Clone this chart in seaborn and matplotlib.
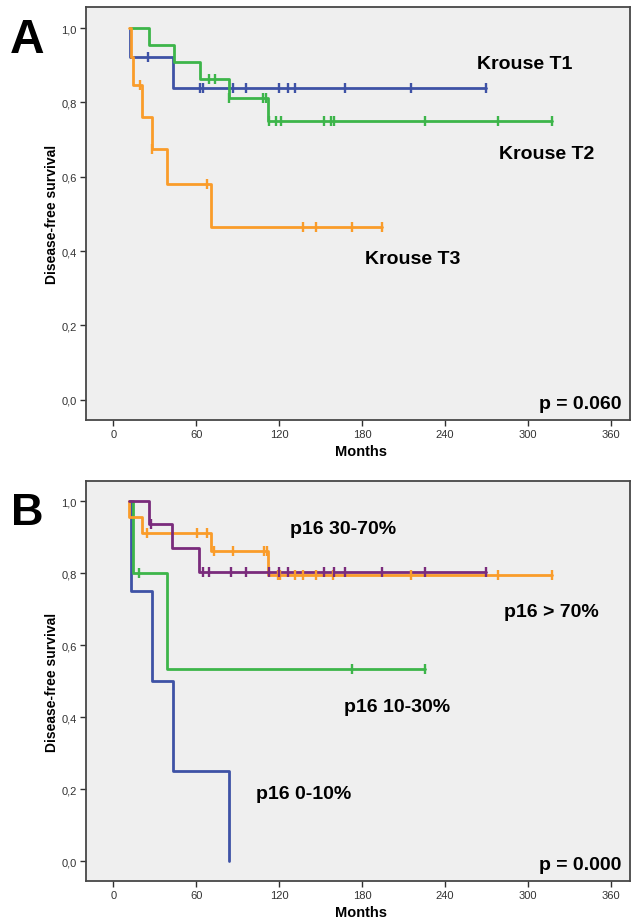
import numpy as np
import matplotlib
matplotlib.use("Agg")
import matplotlib.pyplot as plt
import seaborn as sns

# ---------------- data ----------------
x_ticks = [0, 60, 120, 180, 240, 300, 360]
y_ticks = [0.0, 0.2, 0.4, 0.6, 0.8, 1.0]
y_tick_labels = ["0,0", "0,2", "0,4", "0,6", "0,8", "1,0"]

# Panel A - Krouse stage
krouse_t1_start = 12.3
krouse_t1_events = [12.3, 43.0]
krouse_t1_levels = [0.923, 0.839]
krouse_t1_censored = [24.9, 62.8, 65.0, 86.5, 95.9, 119.8, 126.6, 131.4, 167.4, 215.5, 269.9]

krouse_t2_start = 12.3
krouse_t2_events = [26.1, 43.8, 63.0, 83.8, 111.9]
krouse_t2_levels = [0.955, 0.909, 0.864, 0.812, 0.750]
krouse_t2_censored = [69.6, 73.7, 83.8, 108.7, 110.4, 112.6, 117.4, 121.5, 152.7, 157.5,
                      159.5, 225.4, 278.6, 317.7]

krouse_t3_start = 11.5
krouse_t3_events = [12.8, 14.5, 21.0, 27.8, 38.7, 70.6]
krouse_t3_levels = [0.923, 0.846, 0.761, 0.676, 0.580, 0.464]
krouse_t3_censored = [19.3, 28.2, 68.0, 137.5, 146.5, 172.7, 194.5]

# Panel B - p16 expression
p16_0_10_start = 12.1
p16_0_10_events = [12.8, 27.8, 43.5, 83.8]
p16_0_10_levels = [0.75, 0.50, 0.25, 0.0]
p16_0_10_censored = []

p16_10_30_start = 12.5
p16_10_30_events = [14.5, 38.9]
p16_10_30_levels = [0.80, 0.533]
p16_10_30_censored = [18.9, 172.7, 225.9]

p16_30_70_start = 11.6
p16_30_70_events = [26.1, 42.8, 62.3]
p16_30_70_levels = [0.9375, 0.871, 0.804]
p16_30_70_censored = [27.3, 64.8, 69.6, 85.0, 95.7, 112.8, 120.0, 126.6, 152.7, 159.4,
                      167.4, 194.5, 225.4, 269.9]

p16_70_start = 11.4
p16_70_events = [11.4, 20.6, 70.6, 111.9]
p16_70_levels = [0.957, 0.913, 0.862, 0.795]
p16_70_censored = [24.6, 60.9, 67.7, 73.2, 86.5, 109.2, 111.1, 118.9, 121.0, 131.2,
                   137.5, 146.5, 159.0, 215.5, 278.6, 317.7]

# ---------------- styling ----------------
BLUE = "#3E52A6"
GREEN = "#3DB54A"
ORANGE = "#FA9C2A"
PURPLE = "#7A2B7C"
BG = "#EFEFEF"
SPINE = "#474747"

sns.set_style("ticks")
plt.rcParams["font.family"] = ["Liberation Sans", "DejaVu Sans"]
plt.rcParams["text.color"] = "black"
plt.rcParams["axes.labelcolor"] = "black"

fig = plt.figure(figsize=(6.32, 9.2), dpi=100)
W, H = 632.0, 920.0


def px_axes(left, top, right, bottom):
    return fig.add_axes([left / W, 1 - bottom / H, (right - left) / W, (bottom - top) / H])


ax_a = px_axes(85.7, 8.0, 630.0, 421.0)
ax_b = px_axes(85.7, 481.7, 630.0, 882.3)


def km_curve(ax, start, events, levels, censored, color):
    end = max([start] + list(events) + list(censored))
    xs = [start] + list(events) + [end]
    ys = [1.0] + list(levels) + [levels[-1]]
    sns.lineplot(x=xs, y=ys, drawstyle="steps-post", color=color, linewidth=2.0,
                 estimator=None, sort=False, ax=ax, zorder=2)
    if len(censored):
        lv = np.array([1.0] + list(levels))
        idx = np.searchsorted(np.array(events), np.array(censored), side="right")
        cy = lv[idx]
        sns.scatterplot(x=censored, y=cy, marker="|", s=50, color=color,
                        linewidth=1.7, ax=ax, zorder=3)


def style_axes(ax):
    ax.set_facecolor(BG)
    ax.set_xlim(-20, 374)
    ax.set_ylim(-0.055, 1.057)
    ax.set_xticks(x_ticks)
    ax.set_xticklabels([str(t) for t in x_ticks])
    ax.set_yticks(y_ticks)
    ax.set_yticklabels(y_tick_labels)
    ax.tick_params(axis="both", direction="out", length=4.5, width=1.0, color="#303030",
                   labelsize=8, labelcolor="#333333", pad=2)
    for s in ax.spines.values():
        s.set_visible(True)
        s.set_color(SPINE)
        s.set_linewidth(1.3)
    ax.set_xlabel("Months", fontsize=10.5, fontweight="bold", va="center", color="black")
    ax.set_ylabel("Disease-free survival", fontsize=10, fontweight="bold", va="center",
                  color="black")


# Panel A
km_curve(ax_a, krouse_t1_start, krouse_t1_events, krouse_t1_levels, krouse_t1_censored, BLUE)
km_curve(ax_a, krouse_t2_start, krouse_t2_events, krouse_t2_levels, krouse_t2_censored, GREEN)
km_curve(ax_a, krouse_t3_start, krouse_t3_events, krouse_t3_levels, krouse_t3_censored, ORANGE)
style_axes(ax_a)
ax_a.xaxis.set_label_coords(0.506, -0.075)
ax_a.yaxis.set_label_coords(-0.062, 0.5)

lab_kw = dict(fontsize=14, fontweight="bold", color="black", va="baseline", ha="left")
ax_a.text(263.3, 0.894, "Krouse T1", **lab_kw)
ax_a.text(279.5, 0.6495, "Krouse T2", **lab_kw)
ax_a.text(181.9, 0.367, "Krouse T3", **lab_kw)
ax_a.text(368.0, -0.024, "p = 0.060", fontsize=14, fontweight="bold", color="black",
          va="baseline", ha="right")

# Panel B
km_curve(ax_b, p16_0_10_start, p16_0_10_events, p16_0_10_levels, p16_0_10_censored, BLUE)
km_curve(ax_b, p16_10_30_start, p16_10_30_events, p16_10_30_levels, p16_10_30_censored, GREEN)
km_curve(ax_b, p16_70_start, p16_70_events, p16_70_levels, p16_70_censored, ORANGE)
km_curve(ax_b, p16_30_70_start, p16_30_70_events, p16_30_70_levels, p16_30_70_censored, PURPLE)
style_axes(ax_b)
ax_b.xaxis.set_label_coords(0.506, -0.0766)
ax_b.yaxis.set_label_coords(-0.062, 0.5)

ax_b.text(128.0, 0.912, "p16 30-70%", **lab_kw)
ax_b.text(283.1, 0.6826, "p16 > 70%", **lab_kw)
ax_b.text(166.7, 0.419, "p16 10-30%", **lab_kw)
ax_b.text(103.2, 0.176, "p16 0-10%", **lab_kw)
ax_b.text(368.0, -0.022, "p = 0.000", fontsize=14, fontweight="bold", color="black",
          va="baseline", ha="right")

# Panel letters
fig.text(10 / W, 1 - 52.7 / H, "A", fontsize=34.5, fontweight="bold", color="black",
         va="baseline", ha="left")
fig.text(11 / W, 1 - 525 / H, "B", fontsize=32.5, fontweight="bold", color="black",
         va="baseline", ha="left")

fig.savefig("out.png", dpi=100)
